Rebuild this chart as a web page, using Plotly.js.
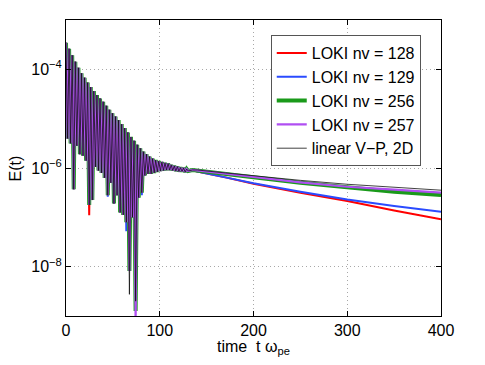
<!DOCTYPE html>
<html>
<head>
<meta charset="utf-8">
<script src="https://cdn.plot.ly/plotly-3.0.1.min.js"></script>
<style>html,body{margin:0;padding:0;background:#fff;}#chart{width:485px;height:365px;}</style>
</head>
<body>
<div id="chart"></div>
<script>
// ---- data ----
const seriesNames = ["LOKI nv = 128", "LOKI nv = 129", "LOKI nv = 256", "LOKI nv = 257", "linear V\u2212P, 2D"];

// oscillating phase (alternating peaks / troughs), shared by all runs
const tOsc = [0, 1.65, 3.3, 4.95, 6.6, 8.25, 9.9, 11.55, 13.2, 14.85, 16.5, 18.15, 19.8, 21.45, 23.1, 24.75,
  26.4, 28.05, 29.7, 31.35, 33, 34.65, 36.3, 37.95, 39.6, 41.25, 42.9, 44.55, 46.2, 47.85, 49.5, 51.15,
  52.8, 54.45, 56.1, 57.75, 59.4, 61.05, 62.7, 64.35, 66, 67.65, 69.3, 70.95, 72.6, 74.25, 75.9, 77.55,
  79.2, 80.85, 82.5, 84.15, 85.8, 87.45, 89.1, 90.75, 92.4, 94.05, 95.7, 97.35, 99, 100.65, 102.3, 103.95,
  105.6, 107.25, 108.9, 110.55, 112.2, 113.85, 115.5, 117.15, 118.8, 120.45, 122.1, 123.75, 125.4, 127.05,
  128.7, 130.35];
const eOscCommon = [3.47e-4, 3.98e-6, 2.60e-4, 3.16e-6, 1.93e-4, 3.72e-7, 1.43e-4, 2.82e-6, 1.07e-4, 1.91e-6,
  8.32e-5, 1.78e-6, 6.76e-5, 1.41e-6, 5.37e-5, 1.78e-7, 4.37e-5, 2.24e-7, 3.63e-5, 1.05e-6, 3.02e-5, 8.91e-7,
  2.57e-5, 7.94e-7, 2.19e-5, 6.31e-7, 1.82e-5, 2.82e-7, 1.51e-5, 5.01e-7, 1.29e-5, 1.91e-7, 1.10e-5, 2.82e-7,
  9.33e-6, 1.26e-7, 7.76e-6, 1.12e-7, 6.46e-6, 7.94e-8, 5.25e-6, 8.13e-9, 4.27e-6, 1.00e-7, 3.55e-6, 1.26e-9,
  2.95e-6, 2.51e-7, 2.51e-6, 3.16e-7, 2.14e-6, 7.08e-7, 1.91e-6, 7.59e-7, 1.70e-6, 7.59e-7, 1.55e-6, 7.94e-7,
  1.45e-6, 8.32e-7, 1.38e-6, 8.71e-7, 1.32e-6, 8.91e-7, 1.26e-6, 9.12e-7, 1.23e-6, 9.12e-7, 1.15e-6, 8.91e-7,
  1.10e-6, 8.71e-7, 1.07e-6, 8.51e-7, 1.02e-6, 8.51e-7, 1.00e-6, 8.32e-7, 9.55e-7, 8.71e-7];

// troughs where an individual run dips lower than the others
const dipT128 = [24.75];          const dipE128 = [1.10e-7];
const dipT129 = [44.55, 64.35, 80.85]; const dipE129 = [2.63e-7, 5.25e-8, 2.82e-7];
const dipT256 = [];               const dipE256 = [];
const dipT257 = [74.25];          const dipE257 = [7.94e-10];
const dipTlin = [67.65, 74.25];   const dipElin = [2.75e-9, 2.00e-9];

// smooth late-time decay
const tTail = [135, 140, 170, 200, 250, 300, 350, 400];
const eTail128 = [9.12e-7, 8.51e-7, 6.46e-7, 4.79e-7, 3.16e-7, 2.14e-7, 1.38e-7, 9.12e-8];
const eTail129 = [9.12e-7, 8.51e-7, 6.46e-7, 4.90e-7, 3.31e-7, 2.29e-7, 1.70e-7, 1.29e-7];
const eTail256 = [9.12e-7, 8.91e-7, 7.59e-7, 6.46e-7, 5.01e-7, 3.98e-7, 3.31e-7, 2.82e-7];
const eTail257 = [9.12e-7, 8.91e-7, 7.59e-7, 6.61e-7, 5.13e-7, 4.17e-7, 3.63e-7, 3.16e-7];
const eTailLin = [9.12e-7, 9.12e-7, 7.94e-7, 6.92e-7, 5.62e-7, 4.68e-7, 4.07e-7, 3.55e-7];

const xTickVals = [0, 100, 200, 300, 400];
const yTickVals = [1e-8, 1e-6, 1e-4];
const yTickText = ["10<sup>\u22128</sup>", "10<sup>\u22126</sup>", "10<sup>\u22124</sup>"];

// ---- build series ----
function build(dipT, dipE, tail) {
  const y = eOscCommon.map((v, i) => {
    const j = dipT.indexOf(tOsc[i]);
    return j >= 0 ? dipE[j] : v;
  });
  return { x: tOsc.concat(tTail), y: y.concat(tail) };
}
const s128 = build(dipT128, dipE128, eTail128);
const s129 = build(dipT129, dipE129, eTail129);
const s256 = build(dipT256, dipE256, eTail256);
const s257 = build(dipT257, dipE257, eTail257);
const sLin = build(dipTlin, dipElin, eTailLin);

const styles = [
  { color: "#ff0000", width: 2 },
  { color: "#2a4bff", width: 2 },
  { color: "#1a9a1a", width: 4 },
  { color: "#b04ff2", width: 2.2 },
  { color: "#111111", width: 0.8 }
];
const all = [s128, s129, s256, s257, sLin];
const traces = all.map((s, i) => ({
  type: "scatter", mode: "lines", x: s.x, y: s.y, name: seriesNames[i],
  line: { color: styles[i].color, width: styles[i].width }
}));

const font = "Liberation Sans, Arial, Helvetica, sans-serif";
const gridDash = "1px,3px";
const layout = {
  width: 485, height: 365,
  margin: { l: 66, r: 44, t: 20, b: 49 },
  paper_bgcolor: "#fff", plot_bgcolor: "#fff",
  font: { family: font, size: 16, color: "#000" },
  showlegend: true,
  legend: {
    x: 0.546, y: 0.949, xanchor: "left", yanchor: "top",
    bgcolor: "#fff", bordercolor: "#555", borderwidth: 1,
    font: { family: font, size: 16, color: "#000" },
    tracegroupgap: 0
  },
  xaxis: {
    range: [0, 400], tickvals: xTickVals, ticktext: xTickVals.map(String),
    ticks: "inside", ticklen: 5, tickcolor: "#000",
    showline: true, linecolor: "#000", linewidth: 1, mirror: "ticks",
    showgrid: true, gridcolor: "#a8a8a8", griddash: gridDash, gridwidth: 1,
    zeroline: false, tickfont: { size: 16 }
  },
  yaxis: {
    type: "log", range: [-9, -3], tickvals: yTickVals, ticktext: yTickText,
    ticks: "inside", ticklen: 5, tickcolor: "#000",
    showline: true, linecolor: "#000", linewidth: 1, mirror: "ticks",
    showgrid: true, gridcolor: "#a8a8a8", griddash: gridDash, gridwidth: 1,
    zeroline: false, tickfont: { size: 16 }
  },
  annotations: [
    { text: "time  t \u03c9<sub>pe</sub>", xref: "paper", yref: "paper", x: 0.5, y: -0.066,
      xanchor: "center", yanchor: "top", showarrow: false, font: { size: 16 } },
    { text: "E(t)", xref: "paper", yref: "paper", x: -0.135, y: 0.5, textangle: -90,
      xanchor: "center", yanchor: "middle", showarrow: false, font: { size: 16 } }
  ]
};
Plotly.newPlot("chart", traces, layout, { displayModeBar: false, staticPlot: true });
</script>
</body>
</html>
